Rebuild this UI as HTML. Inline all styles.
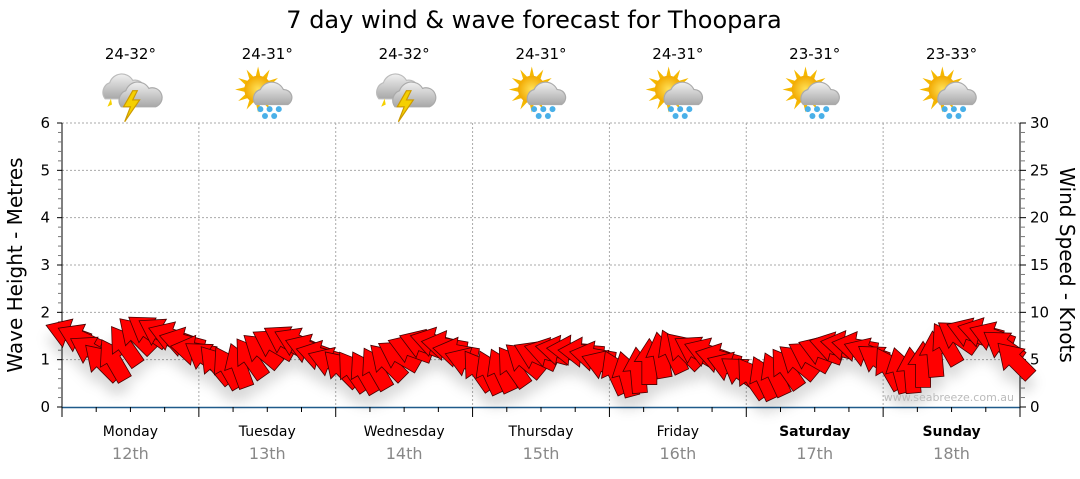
<!DOCTYPE html>
<html><head><meta charset="utf-8"><style>
body{margin:0;background:#fff;width:1080px;height:475px;overflow:hidden;font-family:"DejaVu Sans","Liberation Sans",sans-serif}
svg text{font-family:"DejaVu Sans","Liberation Sans",sans-serif}
</style></head><body>
<svg id="chart" width="1080" height="475" xmlns="http://www.w3.org/2000/svg">
<defs>
<filter id="sh" x="-50%" y="-50%" width="200%" height="250%"><feDropShadow dx="0" dy="12" stdDeviation="6" flood-color="#000" flood-opacity="0.15"/></filter>
<radialGradient id="sun" cx="50%" cy="50%" r="50%"><stop offset="0" stop-color="#ffe25a"/><stop offset="1" stop-color="#f2a900"/></radialGradient>
<linearGradient id="cloud" x1="0" y1="0" x2="0" y2="1"><stop offset="0" stop-color="#f0f0f0"/><stop offset="1" stop-color="#a8a8a8"/></linearGradient>
</defs>
<g id="grid"></g>
<g id="axes"></g>
<g id="marks" filter="url(#sh)"></g>
<g id="labels"></g>
</svg>
<script>
const days=["Monday","Tuesday","Wednesday","Thursday","Friday","Saturday","Sunday"];
const dates=["12th","13th","14th","15th","16th","17th","18th"];
const temps=["24-32°","24-31°","24-32°","24-31°","24-31°","23-31°","23-33°"];
const icons=["storm","sunrain","storm","sunrain","sunrain","sunrain","sunrain"];
const waveTicks=[0,1,2,3,4,5,6];
const windTicks=[0,5,10,15,20,25,30];
const windSpeed=[7.8,7.3,6.0,4.8,5.0,6.5,7.6,8.1,7.9,7.5,6.9,6.0,
5.3,4.5,4.2,4.4,5.2,6.0,6.7,7.1,6.9,6.2,5.5,4.8,
4.1,3.8,3.7,4.1,4.8,5.5,6.2,6.7,6.9,6.5,5.8,4.8,
3.9,3.7,3.9,4.3,5.0,5.5,5.8,6.0,6.0,5.8,5.4,4.5,
3.7,3.5,3.9,4.8,5.5,5.9,6.0,6.0,5.8,5.2,4.3,3.7,
3.1,3.1,3.5,4.1,4.8,5.4,6.0,6.4,6.5,6.4,5.8,5.0,
4.1,3.9,3.9,4.5,5.6,6.7,7.5,7.9,7.9,7.5,6.5,5.0];
const windDir=[200,205,210,225,240,235,225,215,210,200,195,190,
215,230,240,250,235,220,210,210,205,200,195,200,
225,235,240,240,225,210,200,200,195,190,190,200,
235,245,245,235,220,205,195,190,185,185,190,200,
245,255,265,270,260,245,225,210,200,195,200,215,
235,245,245,235,220,210,200,195,190,190,200,215,
240,255,265,270,265,240,215,200,195,200,215,225];

const X0=62,X1=1020,Y0=407,Y1=123,NS="http://www.w3.org/2000/svg";
const xH=h=>X0+h/168*(X1-X0);
const yW=m=>Y0-m/6*(Y0-Y1);
const yK=k=>Y0-k/30*(Y0-Y1);
function mk(tag,attrs,parent,txt){const e=document.createElementNS(NS,tag);for(const k in attrs)e.setAttribute(k,attrs[k]);if(txt!==undefined)e.textContent=txt;parent.appendChild(e);return e;}
const grid=document.getElementById('grid'),axes=document.getElementById('axes'),marks=document.getElementById('marks'),labels=document.getElementById('labels');

waveTicks.forEach(v=>{if(v>0){const g=mk('line',{x1:X0,x2:X1,y1:yW(v),y2:yW(v),stroke:'#aaa','stroke-dasharray':'2,2'},grid);}});
for(let d=1;d<7;d++){const g=mk('line',{x1:xH(d*24),x2:xH(d*24),y1:Y1,y2:Y0,stroke:'#aaa','stroke-dasharray':'2,2'},grid);}

mk('line',{x1:X0,x2:X0,y1:Y1,y2:Y0,stroke:'#000'},axes);
mk('line',{x1:X1,x2:X1,y1:Y1,y2:Y0,stroke:'#000'},axes);
const xa=mk('line',{x1:X0,x2:X1,y1:Y0+0.5,y2:Y0+0.5,stroke:'#1f5a8a','stroke-width':1.5},axes);

for(let i=0;i<=30;i++){const y=Y0-i/30*(Y0-Y1);const maj=i%5==0;
 mk('line',{x1:X0-(maj?5:4),x2:X0,y1:y,y2:y,stroke:maj?'#000':'#777'},axes);
 mk('line',{x1:X1,x2:X1+(maj?6:5),y1:y,y2:y,stroke:maj?'#000':'#777'},axes);}
waveTicks.forEach(v=>{const t=mk('text',{x:50,y:yW(v)+5,'text-anchor':'end','font-size':15,fill:'#000'},labels,String(v));});
windTicks.forEach(v=>{const t=mk('text',{x:1030,y:yK(v)+5,'font-size':15,fill:'#000'},labels,String(v));});
for(let h=0;h<=168;h+=6){const maj=h%24==0;mk('line',{x1:xH(h),x2:xH(h),y1:Y0,y2:Y0+(maj?10:5),stroke:'#000'},axes);}
days.forEach((d,i)=>{const cx=xH(i*24+12);
 const t=mk('text',{x:cx,y:436,'text-anchor':'middle','font-size':14,'font-weight':i>=5?'bold':'normal',fill:'#000'},labels,d);
 const t2=mk('text',{x:cx,y:459,'text-anchor':'middle','font-size':16,fill:'#888'},labels,dates[i]);
 const t3=mk('text',{x:cx,y:59,'text-anchor':'middle','font-size':15,fill:'#000'},labels,temps[i]);
 const g=mk('g',{transform:`translate(${cx},93) scale(1.15)`},labels);
 if(icons[i]=='storm'){
  mk('path',{d:'M-22,5 a9,9 0 0 1 4,-14 a11,11 0 0 1 20,-2 a8,8 0 0 1 4,16 z',fill:'url(#cloud)',stroke:'#bbb'},g);
  mk('path',{d:'M-8,12 a9,9 0 0 1 4,-14 a11,11 0 0 1 20,-2 a8,8 0 0 1 6,16 z',fill:'url(#cloud)',stroke:'#aaa'},g);
  mk('path',{d:'M2,-2 L-6,12 L0,12 L-5,25 L8,6 L2,6 L6,-2 z',fill:'#f5d000',stroke:'#c90'},g);
  mk('path',{d:'M-17,5 L-20,12 L-16,10 z',fill:'#f5d000'},g);
 } else {
  for(let a=0;a<360;a+=30){const r=a*Math.PI/180;mk('path',{d:`M${-8+Math.cos(r)*20},${-3+Math.sin(r)*20} L${-8+Math.cos(r+0.2)*11},${-3+Math.sin(r+0.2)*11} L${-8+Math.cos(r-0.2)*11},${-3+Math.sin(r-0.2)*11} z`,fill:'#f5b800'},g);}
  mk('circle',{cx:-8,cy:-3,r:12,fill:'url(#sun)'},g);
  mk('path',{d:'M-10,10 a8,8 0 0 1 4,-13 a11,11 0 0 1 20,0 a7,7 0 0 1 4,13 z',fill:'url(#cloud)',stroke:'#aaa'},g);
  [[-6,14],[2,14],[10,14],[-2,20],[6,20]].forEach(p=>mk('circle',{cx:p[0],cy:p[1],r:2.6,fill:'#4ab0e8'},g));
 }
});
let t=mk('text',{x:534,y:28,'text-anchor':'middle','font-size':24,fill:'#000'},labels,'7 day wind & wave forecast for Thoopara');
t=mk('text',{x:0,y:0,transform:'translate(22,265) rotate(-90)','text-anchor':'middle','font-size':20,fill:'#000'},labels,'Wave Height - Metres');
t=mk('text',{x:0,y:0,transform:'translate(1060,265) rotate(90)','text-anchor':'middle','font-size':20,fill:'#000'},labels,'Wind Speed - Knots');
t=mk('text',{x:1014,y:401,'text-anchor':'end','font-size':11,fill:'#bbb'},labels,'www.seabreeze.com.au');

windSpeed.forEach((k,i)=>{const h=1+i*2;
 const a=mk('path',{d:'M23,0 L0,-15 L0,-7.5 L-23,-7.5 L-23,7.5 L0,7.5 L0,15 Z',fill:'#ff0000',stroke:'#400','stroke-width':0.8,transform:`translate(${xH(h)},${yK(k)}) rotate(${windDir[i]})`},marks);
 
 
});
</script>
</body></html>
